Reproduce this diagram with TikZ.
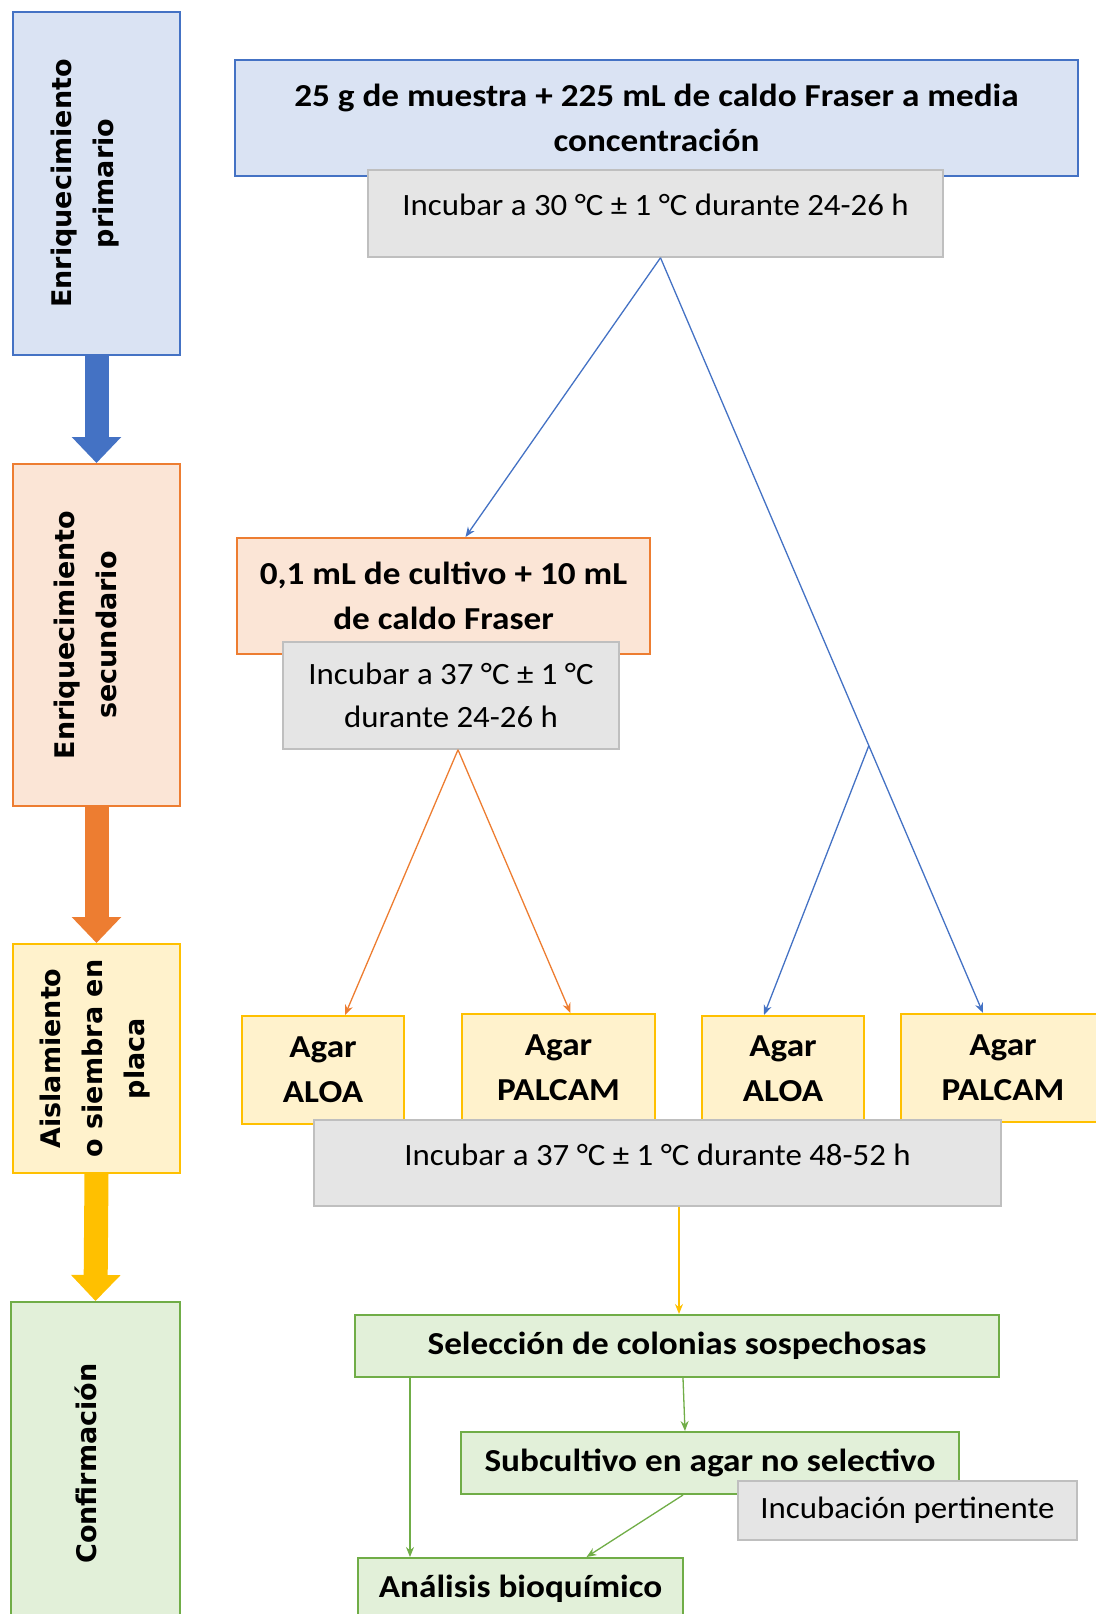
\documentclass[tikz,border=0pt]{standalone}
\usepackage{fontspec}
\setmainfont{Carlito}
\newfontfamily\boxfont[FakeStretch=1.1]{Carlito}
\newfontfamily\incfont[FakeStretch=1.06]{Carlito}
\newfontfamily\stagefont{DejaVu Sans}
\usetikzlibrary{arrows.meta,calc}
\definecolor{bluefill}{HTML}{DAE3F3}
\definecolor{blueline}{HTML}{4472C4}
\definecolor{orangefill}{HTML}{FBE5D6}
\definecolor{orangeline}{HTML}{ED7D31}
\definecolor{yellowfill}{HTML}{FFF2CC}
\definecolor{yellowline}{HTML}{FFC000}
\definecolor{greenfill}{HTML}{E2F0D9}
\definecolor{greenline}{HTML}{70AD47}

\begin{document}
\begin{tikzpicture}[x=1pt,y=-1pt,
    stage/.style={draw,line width=2pt,inner sep=0pt},
    stagetext/.style={rotate=90,align=center,inner sep=0pt,font=\stagefont\bfseries\fontsize{27}{42}\selectfont},
    box/.style={draw,line width=2pt,align=center,inner sep=0pt,font=\boxfont\bfseries\fontsize{32}{45}\selectfont},
    incub/.style={draw=gray!50,fill=gray!20,line width=1.5pt,align=center,inner sep=0pt,font=\incfont\fontsize{31}{43}\selectfont},
    bigarrow/.style={line width=24pt,-{Triangle[width=48pt,length=26pt]}},
    link/.style={line width=1.3pt,-{Stealth[length=10pt,width=8pt]}}]
  \useasboundingbox (0,0) rectangle (1095,1614);

  \node[stage,draw=blueline,fill=bluefill,minimum width=167pt,minimum height=343pt] (prim) at (96.5,183.5) {};
  \node[stagetext] (primtext) at ([xshift=-11pt]prim.center) {Enriquecimiento\\primario};
  \node[stage,draw=orangeline,fill=orangefill,minimum width=167pt,minimum height=342pt] (sec) at (96.5,635) {};
  \node[stagetext] (sectext) at ([xshift=-11pt]sec.center) {Enriquecimiento\\secundario};
  \node[stage,draw=yellowline,fill=yellowfill,minimum width=167pt,minimum height=229pt] (aisl) at (96.5,1058.5) {};
  \node[stagetext] (aisltext) at ([xshift=-1pt]aisl.center) {Aislamiento\\o siembra en\\placa};
  \node[stage,draw=greenline,fill=greenfill,minimum width=169pt,minimum height=323pt] (conf) at (95.5,1463.5) {};
  \node[stagetext] (conftext) at ([xshift=-10pt]conf.center) {Confirmación};
  \draw[bigarrow,blueline] (prim.south) to (sec.north);
  \draw[bigarrow,orangeline] (sec.south) to (aisl.north);
  \draw[bigarrow,yellowline] (aisl.south) to (conf.north);

  \node[box,draw=blueline,fill=bluefill,minimum width=843pt,minimum height=116pt] (muestra) at (656.5,118) {25 g de muestra + 225 mL de caldo Fraser a media\\concentración};
  \node[incub,minimum width=575pt,minimum height=87pt,text height=22pt,text depth=19pt] (inc1) at (655.5,213.5) {Incubar a 30 °C ± 1 °C durante 24-26 h};

  \node[box,draw=orangeline,fill=orangefill,minimum width=413pt,minimum height=116pt] (cultivo) at (443.5,596) {0,1 mL de cultivo + 10 mL\\de caldo Fraser};
  \node[incub,minimum width=336pt,minimum height=107pt] (inc2) at (451,695.5) {Incubar a 37 °C ± 1 °C\\durante 24-26 h};

  \node[box,draw=yellowline,fill=yellowfill,minimum width=162pt,minimum height=108pt] (aloaA) at (323,1070) {Agar\\ALOA};
  \node[box,draw=yellowline,fill=yellowfill,minimum width=193pt,minimum height=108pt] (palcamA) at (558.5,1068) {Agar\\PALCAM};
  \node[box,draw=yellowline,fill=yellowfill,minimum width=162pt,minimum height=106pt] (aloaB) at (783,1069) {Agar\\ALOA};
  \node[box,draw=yellowline,fill=yellowfill,minimum width=204pt,minimum height=108pt] (palcamB) at (1003,1068) {Agar\\PALCAM};
  \node[incub,minimum width=687pt,minimum height=86pt,text height=22pt,text depth=18pt] (inc3) at (657.5,1163) {Incubar a 37 °C ± 1 °C durante 48-52 h};

  \node[box,draw=greenline,fill=greenfill,minimum width=644pt,minimum height=62pt] (sel) at (677,1346) {Selección de colonias sospechosas};
  \node[box,draw=greenline,fill=greenfill,minimum width=498pt,minimum height=62pt] (sub) at (710,1463) {Subcultivo en agar no selectivo};
  \node[incub,minimum width=339pt,minimum height=59pt] (inc4) at (907.5,1510.5) {Incubación pertinente};
  \node[box,draw=greenline,fill=greenfill,minimum width=325pt,minimum height=62pt] (anal) at (520.5,1589) {Análisis bioquímico};

  \coordinate (brA) at ([xshift=5pt]inc1.south);
  \coordinate (brB) at ($(brA)!0.646!([xshift=-20pt]palcamB.north)$);
  \draw[link,blueline] (brA) to ([xshift=22pt]cultivo.north);
  \draw[link,blueline] (brA) to ([xshift=-20pt]palcamB.north);
  \draw[link,blueline] (brB) to ([xshift=-19pt]aloaB.north);
  \draw[link,orangeline] ([xshift=7pt]inc2.south) to ([xshift=22pt]aloaA.north);
  \draw[link,orangeline] ([xshift=7pt]inc2.south) to ([xshift=12pt]palcamA.north);
  \draw[link,yellowline] ([xshift=21.5pt]inc3.south) to ([xshift=2pt]sel.north);
  \draw[link,greenline] ([xshift=6pt]sel.south) to ([xshift=-25pt]sub.north);
  \draw[link,greenline] ([xshift=56pt]sel.south west) to ([xshift=53pt]anal.north west);
  \draw[link,greenline] ([xshift=-27pt]sub.south) to ([xshift=66pt]anal.north);
\end{tikzpicture}
\end{document}
